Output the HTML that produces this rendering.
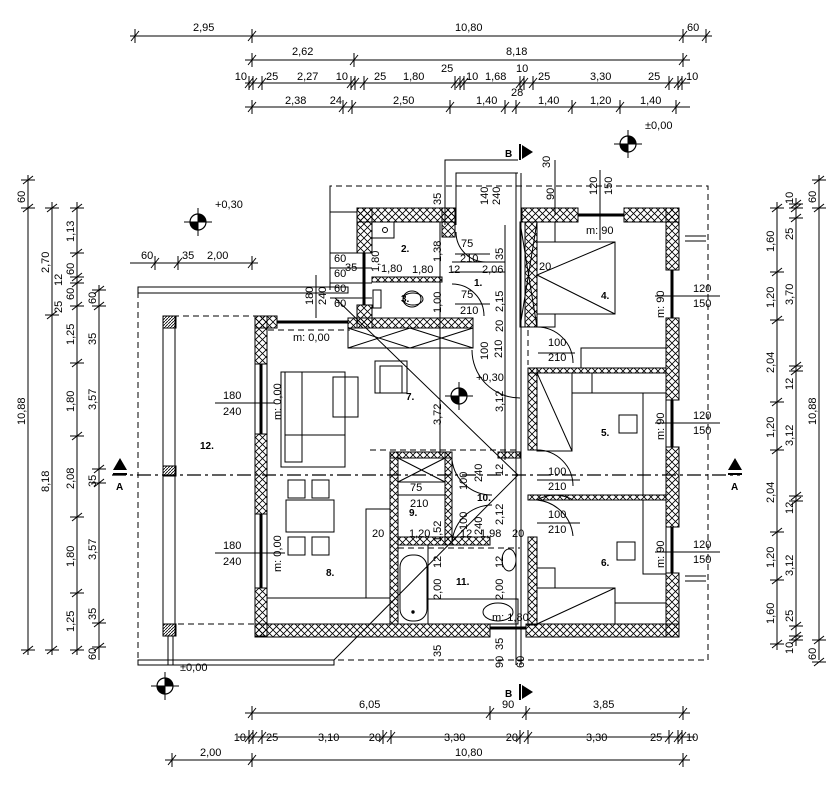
<!DOCTYPE html>
<html><head><meta charset="utf-8"><style>
html,body{margin:0;padding:0;background:#fff}
svg{display:block}
text{font-family:"Liberation Sans",sans-serif;font-size:11px;fill:#000}
.b{font-weight:bold;font-size:10px}
</style></head><body>
<svg width="840" height="786" viewBox="0 0 840 786" xmlns="http://www.w3.org/2000/svg">
<defs>
<pattern id="h" patternUnits="userSpaceOnUse" width="7" height="7">
<path d="M0,0L7,7M0,7L7,0" stroke="#000" stroke-width="0.8"/>
</pattern>
<pattern id="d" patternUnits="userSpaceOnUse" width="3" height="3">
<path d="M0,3L3,0" stroke="#000" stroke-width="0.8"/>
</pattern>
<g id="th"><line x1="0" y1="-7" x2="0" y2="7" stroke="#000"/><line x1="-4" y1="5" x2="4" y2="-5" stroke="#000"/></g>
<g id="tv"><line x1="-7" y1="0" x2="7" y2="0" stroke="#000"/><line x1="-5" y1="4" x2="5" y2="-4" stroke="#000"/></g>
<g id="lv"><circle r="8" fill="#fff" stroke="#000" stroke-width="1.2"/><path d="M0,0L8,0A8,8 0 0 0 0,-8Z M0,0L-8,0A8,8 0 0 0 0,8Z" fill="#000"/><line x1="-14" y1="0" x2="14" y2="0" stroke="#000"/><line x1="0" y1="-14" x2="0" y2="14" stroke="#000"/></g>
</defs>

<g stroke="#000" fill="none" stroke-width="1">
<!-- TOP DIMS -->
<line x1="130" y1="36" x2="712" y2="36"/>
<line x1="245" y1="60" x2="690" y2="60"/>
<line x1="245" y1="83" x2="690" y2="83"/>
<line x1="245" y1="107" x2="690" y2="107"/>
<!-- BOTTOM -->
<line x1="245" y1="713" x2="690" y2="713"/>
<line x1="238" y1="737" x2="695" y2="737"/>
<line x1="165" y1="760" x2="690" y2="760"/>
<!-- LEFT -->
<line x1="28" y1="175" x2="28" y2="655"/>
<line x1="52" y1="202" x2="52" y2="655"/>
<line x1="77" y1="202" x2="77" y2="655"/>
<line x1="99" y1="285" x2="99" y2="660"/>
<!-- RIGHT -->
<line x1="777" y1="202" x2="777" y2="650"/>
<line x1="796" y1="198" x2="796" y2="646"/>
<line x1="819" y1="175" x2="819" y2="660"/>
</g>

<g>
<use href="#th" x="135" y="36"/><use href="#th" x="252" y="36"/><use href="#th" x="683" y="36"/><use href="#th" x="706" y="36"/>
<use href="#th" x="252" y="60"/><use href="#th" x="354" y="60"/><use href="#th" x="683" y="60"/>
<use href="#th" x="249" y="83"/><use href="#th" x="253" y="83"/><use href="#th" x="262" y="83"/>
<use href="#th" x="351" y="83"/><use href="#th" x="355" y="83"/><use href="#th" x="364" y="83"/>
<use href="#th" x="455" y="83"/><use href="#th" x="460" y="83"/><use href="#th" x="464" y="83"/>
<use href="#th" x="520" y="83"/><use href="#th" x="524" y="83"/><use href="#th" x="533" y="83"/>
<use href="#th" x="669" y="83"/><use href="#th" x="678" y="83"/><use href="#th" x="682" y="83"/>
<use href="#th" x="252" y="107"/><use href="#th" x="343" y="107"/><use href="#th" x="352" y="107"/><use href="#th" x="450" y="107"/><use href="#th" x="505" y="107"/><use href="#th" x="516" y="107"/><use href="#th" x="572" y="107"/><use href="#th" x="620" y="107"/><use href="#th" x="676" y="107"/>
<use href="#th" x="252" y="713"/><use href="#th" x="490" y="713"/><use href="#th" x="526" y="713"/><use href="#th" x="683" y="713"/>
<use href="#th" x="249" y="737"/><use href="#th" x="253" y="737"/><use href="#th" x="262" y="737"/><use href="#th" x="383" y="737"/><use href="#th" x="391" y="737"/><use href="#th" x="520" y="737"/><use href="#th" x="528" y="737"/><use href="#th" x="669" y="737"/><use href="#th" x="678" y="737"/><use href="#th" x="682" y="737"/>
<use href="#th" x="172" y="760"/><use href="#th" x="252" y="760"/><use href="#th" x="683" y="760"/>
<use href="#tv" x="28" y="180"/><use href="#tv" x="28" y="208"/><use href="#tv" x="28" y="650"/>
<use href="#tv" x="52" y="208"/><use href="#tv" x="52" y="315"/><use href="#tv" x="52" y="650"/>
<use href="#tv" x="77" y="208"/><use href="#tv" x="77" y="253"/><use href="#tv" x="77" y="277"/><use href="#tv" x="77" y="283"/><use href="#tv" x="77" y="306"/><use href="#tv" x="77" y="363"/><use href="#tv" x="77" y="436"/><use href="#tv" x="77" y="517"/><use href="#tv" x="77" y="593"/><use href="#tv" x="77" y="650"/>
<use href="#tv" x="99" y="290"/><use href="#tv" x="99" y="306"/><use href="#tv" x="99" y="469"/><use href="#tv" x="99" y="483"/><use href="#tv" x="99" y="623"/><use href="#tv" x="99" y="647"/>
<use href="#tv" x="777" y="208"/><use href="#tv" x="777" y="272"/><use href="#tv" x="777" y="320"/><use href="#tv" x="777" y="402"/><use href="#tv" x="777" y="450"/><use href="#tv" x="777" y="532"/><use href="#tv" x="777" y="580"/><use href="#tv" x="777" y="644"/>
<use href="#tv" x="796" y="204"/><use href="#tv" x="796" y="208"/><use href="#tv" x="796" y="218"/><use href="#tv" x="796" y="366"/><use href="#tv" x="796" y="371"/><use href="#tv" x="796" y="496"/><use href="#tv" x="796" y="501"/><use href="#tv" x="796" y="626"/><use href="#tv" x="796" y="636"/><use href="#tv" x="796" y="640"/>
<use href="#tv" x="819" y="180"/><use href="#tv" x="819" y="208"/><use href="#tv" x="819" y="640"/><use href="#tv" x="819" y="662"/>
</g>

<!-- dim texts -->
<g>
<text x="193" y="31">2,95</text><text x="455" y="31">10,80</text><text x="687" y="31">60</text>
<text x="292" y="55">2,62</text><text x="506" y="55">8,18</text>
<text x="247" y="80" text-anchor="end">10</text><text x="266" y="80">25</text><text x="297" y="80">2,27</text><text x="348" y="80" text-anchor="end">10</text><text x="374" y="80">25</text><text x="403" y="80">1,80</text><text x="441" y="72">25</text><text x="466" y="80">10</text><text x="485" y="80">1,68</text><text x="516" y="72">10</text><text x="538" y="80">25</text><text x="590" y="80">3,30</text><text x="648" y="80">25</text><text x="686" y="80">10</text>
<text x="285" y="104">2,38</text><text x="342" y="104" text-anchor="end">24</text><text x="393" y="104">2,50</text><text x="476" y="104">1,40</text><text x="511" y="96">28</text><text x="538" y="104">1,40</text><text x="590" y="104">1,20</text><text x="640" y="104">1,40</text>
<text x="359" y="708">6,05</text><text x="502" y="708">90</text><text x="593" y="708">3,85</text>
<text x="246" y="741" text-anchor="end">10</text><text x="266" y="741">25</text><text x="318" y="741">3,10</text><text x="381" y="741" text-anchor="end">20</text><text x="444" y="741">3,30</text><text x="518" y="741" text-anchor="end">20</text><text x="586" y="741">3,30</text><text x="650" y="741">25</text><text x="686" y="741">10</text>
<text x="200" y="756">2,00</text><text x="455" y="756">10,80</text>
</g>
<g>
<text transform="translate(25,203) rotate(-90)">60</text>
<text transform="translate(25,425) rotate(-90)">10,88</text>
<text transform="translate(49,273) rotate(-90)">2,70</text>
<text transform="translate(49,492) rotate(-90)">8,18</text>
<text transform="translate(74,242) rotate(-90)">1,13</text>
<text transform="translate(74,275) rotate(-90)">60</text>
<text transform="translate(62,286) rotate(-90)">12</text>
<text transform="translate(74,300) rotate(-90)">60</text>
<text transform="translate(62,313) rotate(-90)">25</text>
<text transform="translate(74,345) rotate(-90)">1,25</text>
<text transform="translate(74,412) rotate(-90)">1,80</text>
<text transform="translate(74,489) rotate(-90)">2,08</text>
<text transform="translate(74,567) rotate(-90)">1,80</text>
<text transform="translate(74,632) rotate(-90)">1,25</text>
<text transform="translate(96,304) rotate(-90)">60</text>
<text transform="translate(96,345) rotate(-90)">35</text>
<text transform="translate(96,410) rotate(-90)">3,57</text>
<text transform="translate(96,487) rotate(-90)">35</text>
<text transform="translate(96,560) rotate(-90)">3,57</text>
<text transform="translate(96,620) rotate(-90)">35</text>
<text transform="translate(96,660) rotate(-90)">60</text>
<text transform="translate(774,252) rotate(-90)">1,60</text>
<text transform="translate(774,308) rotate(-90)">1,20</text>
<text transform="translate(774,373) rotate(-90)">2,04</text>
<text transform="translate(774,438) rotate(-90)">1,20</text>
<text transform="translate(774,503) rotate(-90)">2,04</text>
<text transform="translate(774,568) rotate(-90)">1,20</text>
<text transform="translate(774,624) rotate(-90)">1,60</text>
<text transform="translate(793,204) rotate(-90)">10</text>
<text transform="translate(793,240) rotate(-90)">25</text>
<text transform="translate(793,305) rotate(-90)">3,70</text>
<text transform="translate(793,390) rotate(-90)">12</text>
<text transform="translate(793,446) rotate(-90)">3,12</text>
<text transform="translate(793,514) rotate(-90)">12</text>
<text transform="translate(793,576) rotate(-90)">3,12</text>
<text transform="translate(793,622) rotate(-90)">25</text>
<text transform="translate(793,654) rotate(-90)">10</text>
<text transform="translate(816,203) rotate(-90)">60</text>
<text transform="translate(816,425) rotate(-90)">10,88</text>
<text transform="translate(816,660) rotate(-90)">60</text>
</g>

<!-- Overhang dashed outline -->
<g stroke="#000" fill="none" stroke-width="1" stroke-dasharray="6,4">
<polyline points="330,290 330,186 708,186 708,660 334,660"/>
<line x1="138" y1="292" x2="138" y2="660"/>
<line x1="163" y1="316" x2="255" y2="316"/>
<line x1="178" y1="624" x2="255" y2="624"/>
<line x1="268" y1="330" x2="350" y2="330"/>
<line x1="370" y1="450" x2="520" y2="450"/>
<line x1="398" y1="548" x2="520" y2="548"/>
<line x1="528" y1="330" x2="528" y2="365"/>
</g>
<g stroke="#000" fill="none" stroke-width="1">
<rect x="138" y="287" width="210" height="6"/>
<rect x="138" y="660" width="196" height="5"/>
<line x1="330" y1="186" x2="330" y2="287"/>
<rect x="163" y="316" width="12" height="320"/>
<line x1="168" y1="636" x2="168" y2="665"/><line x1="173" y1="636" x2="173" y2="665"/>
<!-- entrance -->
<polyline points="445,225 445,160 518,160"/>
<polyline points="456,225 456,173 518,173"/>
<line x1="516" y1="173" x2="516" y2="665"/><line x1="521" y1="173" x2="521" y2="665"/>
<line x1="357" y1="212" x2="330" y2="212"/>
<line x1="685" y1="236" x2="706" y2="236"/><line x1="685" y1="241" x2="706" y2="241"/>
<line x1="685" y1="576" x2="706" y2="576"/><line x1="685" y1="581" x2="706" y2="581"/>
</g>
<rect x="163" y="316" width="13" height="12" fill="url(#d)" stroke="#000"/>
<rect x="163" y="624" width="13" height="12" fill="url(#d)" stroke="#000"/>
<rect x="163" y="466" width="13" height="10" fill="url(#d)" stroke="#000"/>

<!-- WALLS -->
<g fill="url(#h)" stroke="#000" stroke-width="1">
<rect x="357" y="208" width="98" height="14"/>
<rect x="442" y="208" width="13" height="29"/>
<rect x="357" y="208" width="15" height="45"/>
<rect x="357" y="305" width="15" height="23"/>
<rect x="372" y="277" width="70" height="5"/>
<rect x="348" y="318" width="125" height="10"/>
<rect x="255" y="316" width="22" height="12"/>
<rect x="255" y="316" width="12" height="48"/>
<rect x="255" y="434" width="12" height="80"/>
<rect x="255" y="588" width="12" height="48"/>
<rect x="255" y="624" width="235" height="13"/>
<rect x="526" y="624" width="153" height="13"/>
<rect x="666" y="208" width="13" height="62"/>
<rect x="666" y="318" width="13" height="82"/>
<rect x="666" y="447" width="13" height="80"/>
<rect x="666" y="573" width="13" height="64"/>
<rect x="522" y="208" width="56" height="14"/>
<rect x="624" y="208" width="55" height="14"/>
<rect x="525" y="222" width="12" height="105"/>
<rect x="528" y="368" width="138" height="5"/>
<rect x="528" y="368" width="9" height="82"/>
<rect x="528" y="495" width="138" height="5"/>
<rect x="528" y="537" width="9" height="88"/>
<rect x="390" y="452" width="8" height="172"/>
<rect x="398" y="537" width="92" height="8"/>
<rect x="445" y="452" width="7" height="93"/>
<rect x="390" y="452" width="62" height="6"/>
<rect x="498" y="452" width="22" height="6"/>
</g>
<!-- windows -->
<g stroke="#000" fill="none">
<line x1="277" y1="322" x2="348" y2="322" stroke-width="3"/>
<line x1="261" y1="364" x2="261" y2="434" stroke-width="3"/>
<line x1="261" y1="514" x2="261" y2="588" stroke-width="3"/>
<line x1="364" y1="253" x2="364" y2="305" stroke-width="3"/>
<line x1="578" y1="215" x2="624" y2="215" stroke-width="3"/>
<line x1="672" y1="270" x2="672" y2="318" stroke-width="3"/>
<line x1="672" y1="400" x2="672" y2="447" stroke-width="3"/>
<line x1="672" y1="527" x2="672" y2="573" stroke-width="3"/>
<line x1="490" y1="628" x2="526" y2="628" stroke-width="3"/>
<rect x="255" y="364" width="12" height="70"/><rect x="255" y="514" width="12" height="74"/>
</g>

<!-- Interior detail -->
<g stroke="#000" fill="none" stroke-width="1">
<rect x="348" y="328" width="125" height="20"/>
<path d="M348,328L410,348M410,328L348,348M410,328L473,348M473,328L410,348"/>
<rect x="398" y="458" width="47" height="24"/>
<path d="M398,458L445,482M445,458L398,482"/>
<rect x="520" y="222" width="17" height="105"/>
<path d="M520,222L537,327M537,222L520,327"/>
<!-- diagonal stair lines -->
<path d="M335,298L518,475L334,660"/>
<line x1="440" y1="222" x2="440" y2="455"/>
<line x1="505" y1="225" x2="505" y2="460"/>
<line x1="452" y1="262" x2="505" y2="262"/>
<line x1="452" y1="272" x2="505" y2="272"/>
<!-- door arcs -->
<path d="M456,232A30,30 0 0 0 486,262"/>
<path d="M452,284A32,32 0 0 1 484,316"/>
<path d="M472,350A48,48 0 0 0 520,398"/>
<path d="M537,327A36,36 0 0 1 573,363"/>
<path d="M537,450A36,36 0 0 1 573,486"/>
<path d="M537,500A36,36 0 0 1 573,500"/>
<path d="M537,500A40,40 0 0 1 573,536"/>
<path d="M452,460A40,40 0 0 0 492,495"/>
<path d="M452,545A40,40 0 0 1 492,505"/>
<!-- room 2/3 fixtures -->
<rect x="372" y="222" width="22" height="16"/><circle cx="385" cy="230" r="2.5"/>
<ellipse cx="413" cy="299" rx="10" ry="6"/>
<ellipse cx="412" cy="299" rx="9" ry="8"/><rect x="373" y="290" width="8" height="18"/>
<!-- living -->
<rect x="281" y="372" width="64" height="95"/>
<rect x="285" y="372" width="17" height="90"/>
<line x1="285" y1="435" x2="345" y2="435"/><line x1="302" y1="404" x2="302" y2="462"/>
<rect x="333" y="377" width="25" height="40"/>
<rect x="375" y="361" width="32" height="32"/><rect x="380" y="366" width="22" height="27"/>
<!-- dining -->
<rect x="286" y="500" width="48" height="32"/>
<rect x="288" y="480" width="17" height="18"/><rect x="312" y="480" width="17" height="18"/>
<rect x="288" y="537" width="17" height="18"/><rect x="312" y="537" width="17" height="18"/>
<rect x="267" y="598" width="123" height="26"/>
<rect x="366" y="509" width="24" height="89"/>
<!-- bath 11 -->
<rect x="400" y="555" width="27" height="66" rx="12"/><circle cx="413" cy="612" r="1.2" fill="#000"/>
<rect x="428" y="545" width="0" height="1"/>
<line x1="428" y1="545" x2="428" y2="624"/>
<rect x="428" y="599" width="90" height="25"/>
<ellipse cx="498" cy="612" rx="15" ry="9"/>
<ellipse cx="509" cy="560" rx="7" ry="11"/>
<!-- room 4 -->
<rect x="537" y="242" width="78" height="72"/>
<path d="M615,242L537,275L615,314"/>
<line x1="555" y1="222" x2="555" y2="242"/>
<rect x="537" y="314" width="18" height="13"/>
<rect x="581" y="348" width="85" height="20"/>
<!-- room 5 -->
<rect x="537" y="373" width="35" height="78"/><line x1="537" y1="373" x2="572" y2="451"/>
<rect x="572" y="373" width="20" height="20"/><line x1="572" y1="393" x2="666" y2="393"/>
<rect x="643" y="393" width="23" height="102"/>
<rect x="619" y="415" width="18" height="18"/>
<!-- room 6 -->
<rect x="643" y="500" width="23" height="74"/>
<rect x="617" y="542" width="18" height="18"/>
<rect x="537" y="568" width="18" height="20"/>
<rect x="537" y="588" width="78" height="36"/><line x1="537" y1="624" x2="615" y2="588"/>
<line x1="615" y1="603" x2="666" y2="603"/>
<!-- window label lines -->
<line x1="215" y1="403" x2="275" y2="403"/>
<line x1="215" y1="553" x2="285" y2="553"/>
<line x1="655" y1="296" x2="720" y2="296"/>
<line x1="655" y1="423" x2="720" y2="423"/>
<line x1="655" y1="552" x2="720" y2="552"/>
<line x1="600" y1="170" x2="600" y2="240"/>
<line x1="555" y1="160" x2="555" y2="215"/>
<line x1="316" y1="275" x2="316" y2="318"/>
<line x1="330" y1="253" x2="372" y2="253"/>
<line x1="330" y1="268" x2="372" y2="268"/>
<line x1="330" y1="283" x2="372" y2="283"/>
<line x1="330" y1="298" x2="372" y2="298"/>
<line x1="455" y1="254" x2="490" y2="254"/>
<line x1="455" y1="304" x2="490" y2="304"/>
<line x1="538" y1="353" x2="575" y2="353"/>
<line x1="537" y1="480" x2="580" y2="480"/>
<line x1="537" y1="523" x2="580" y2="523"/>
<line x1="398" y1="495" x2="445" y2="495"/>
</g>
<!-- section lines -->
<g stroke="#000" stroke-width="1.2" stroke-dasharray="14,4,3,4" fill="none">
<line x1="112" y1="475" x2="740" y2="475"/>
</g>
<g fill="#000">
<path d="M113,470L120,458L127,470Z"/><rect x="113" y="473" width="14" height="2"/>
<path d="M728,470L735,458L742,470Z"/><rect x="728" y="473" width="14" height="2"/>
<rect x="519" y="144" width="2" height="16"/><path d="M522,145L533,152L522,159Z"/>
<rect x="519" y="684" width="2" height="16"/><path d="M522,685L533,692L522,699Z"/>
</g>
<text class="b" x="116" y="490">A</text><text class="b" x="731" y="490">A</text>
<text class="b" x="505" y="157">B</text><text class="b" x="505" y="697">B</text>

<use href="#lv" x="198" y="222"/>
<use href="#lv" x="459" y="396"/>
<use href="#lv" x="628" y="144"/>
<use href="#lv" x="165" y="686"/>
<text x="215" y="208">+0,30</text><text x="476" y="381">+0,30</text><text x="645" y="129">±0,00</text><text x="180" y="671">±0,00</text>

<!-- room numbers -->
<g>
<text class="b" x="401" y="252">2.</text><text class="b" x="401" y="302">3.</text><text class="b" x="474" y="286">1.</text>
<text class="b" x="601" y="299">4.</text><text class="b" x="601" y="436">5.</text><text class="b" x="601" y="566">6.</text>
<text class="b" x="406" y="400">7.</text><text class="b" x="326" y="576">8.</text><text class="b" x="409" y="516">9.</text>
<text class="b" x="477" y="501">10.</text><text class="b" x="456" y="585">11.</text><text class="b" x="200" y="449">12.</text>
</g>
<!-- interior labels -->
<g>
<text x="223" y="399">180</text><text x="223" y="415">240</text>
<text x="223" y="549">180</text><text x="223" y="565">240</text>
<text x="293" y="341">m:  0,00</text>
<text transform="translate(281,420) rotate(-90)">m:  0,00</text>
<text transform="translate(281,572) rotate(-90)">m:  0,00</text>
<text x="586" y="234">m:  90</text>
<text transform="translate(664,318) rotate(-90)">m:  90</text>
<text transform="translate(664,440) rotate(-90)">m:  90</text>
<text transform="translate(664,568) rotate(-90)">m:  90</text>
<text x="693" y="292">120</text><text x="693" y="307">150</text>
<text x="693" y="419">120</text><text x="693" y="434">150</text>
<text x="693" y="548">120</text><text x="693" y="563">150</text>
<text x="548" y="346">100</text><text x="548" y="361">210</text>
<text x="548" y="475">100</text><text x="548" y="490">210</text>
<text x="548" y="518">100</text><text x="548" y="533">210</text>
<text x="539" y="270">20</text>
<text x="334" y="262">60</text><text x="334" y="277">60</text><text x="334" y="292">60</text><text x="334" y="307">60</text>
<text x="345" y="271">35</text>
<text x="381" y="272">1,80</text><text x="412" y="273">1,80</text>
<text x="448" y="273">12</text><text x="482" y="273">2,06</text>
<text x="461" y="247">75</text><text x="460" y="262">210</text>
<text x="461" y="298">75</text><text x="460" y="314">210</text>
<text x="410" y="491">75</text><text x="410" y="507">210</text>
<text x="372" y="537">20</text><text x="409" y="537">1,20</text><text x="460" y="537">12</text>
<text x="480" y="537">1,98</text><text x="512" y="537">20</text>
<text x="492" y="621">m:  1,80</text>
<text transform="translate(313,305) rotate(-90)">180</text>
<text transform="translate(326,305) rotate(-90)">240</text>
<text transform="translate(379,272) rotate(-90)">1,80</text>
<text transform="translate(441,205) rotate(-90)">35</text>
<text transform="translate(488,205) rotate(-90)">140</text>
<text transform="translate(500,205) rotate(-90)">240</text>
<text transform="translate(441,262) rotate(-90)">1,38</text>
<text transform="translate(441,313) rotate(-90)">1,00</text>
<text transform="translate(503,260) rotate(-90)">35</text>
<text transform="translate(503,312) rotate(-90)">2,15</text>
<text transform="translate(503,332) rotate(-90)">20</text>
<text transform="translate(488,360) rotate(-90)">100</text>
<text transform="translate(502,358) rotate(-90)">210</text>
<text transform="translate(503,412) rotate(-90)">3,12</text>
<text transform="translate(441,425) rotate(-90)">3,72</text>
<text transform="translate(550,168) rotate(-90)">30</text>
<text transform="translate(554,200) rotate(-90)">90</text>
<text transform="translate(597,195) rotate(-90)">120</text>
<text transform="translate(612,195) rotate(-90)">150</text>
<text transform="translate(503,476) rotate(-90)">12</text>
<text transform="translate(467,490) rotate(-90)">100</text>
<text transform="translate(482,482) rotate(-90)">240</text>
<text transform="translate(503,525) rotate(-90)">2,12</text>
<text transform="translate(441,542) rotate(-90)">1,52</text>
<text transform="translate(467,530) rotate(-90)">100</text>
<text transform="translate(482,535) rotate(-90)">240</text>
<text transform="translate(441,568) rotate(-90)">12</text>
<text transform="translate(441,600) rotate(-90)">2,00</text>
<text transform="translate(503,568) rotate(-90)">12</text>
<text transform="translate(503,600) rotate(-90)">2,00</text>
<text transform="translate(441,657) rotate(-90)">35</text>
<text transform="translate(503,668) rotate(-90)">90</text>
<text transform="translate(503,650) rotate(-90)">35</text>
<text transform="translate(524,668) rotate(-90)">60</text>
</g>
<g>
<use href="#th" x="155" y="263"/><use href="#th" x="178" y="263"/><use href="#th" x="252" y="263"/>
</g>
<line x1="130" y1="263" x2="258" y2="263" stroke="#000"/>
<text x="141" y="259">60</text><text x="182" y="259">35</text><text x="207" y="259">2,00</text>
</svg>
</body></html>
